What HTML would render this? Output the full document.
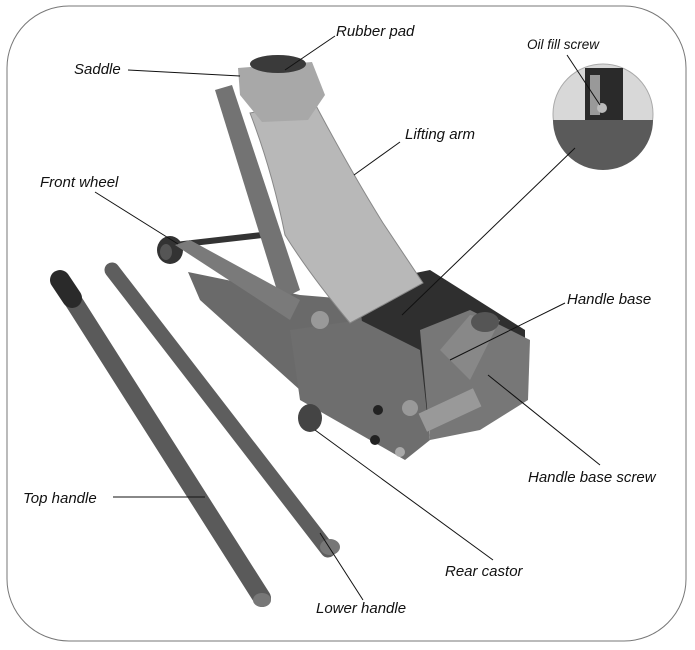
<!DOCTYPE html>
<html><head><meta charset="utf-8"><style>
html,body{margin:0;padding:0;background:#fff;}
svg{display:block;}
text{font-family:"Liberation Sans",sans-serif;font-style:italic;font-size:15px;fill:#111;}
</style></head><body>
<svg width="695" height="650" viewBox="0 0 695 650" xmlns="http://www.w3.org/2000/svg">
<rect x="7" y="6" width="679" height="635" rx="62" ry="62" fill="#fff" stroke="#777" stroke-width="1"/>

<!-- handles -->
<g stroke-linecap="round">
<line x1="60" y1="280" x2="262" y2="598" stroke="#5a5a5a" stroke-width="18"/>
<line x1="60" y1="280" x2="72" y2="298" stroke="#2a2a2a" stroke-width="20"/>
<line x1="112" y1="270" x2="328" y2="550" stroke="#5e5e5e" stroke-width="15"/>
</g>
<ellipse cx="262" cy="600" rx="9" ry="7" fill="#777"/>
<ellipse cx="330" cy="547" rx="10" ry="8" fill="#777"/>

<!-- front wheel and axle -->
<line x1="175" y1="245" x2="262" y2="235" stroke="#333" stroke-width="6"/>
<ellipse cx="170" cy="250" rx="13" ry="14" fill="#333"/>
<ellipse cx="166" cy="252" rx="6" ry="8" fill="#555"/>

<!-- front arm / frame -->
<polygon points="188,272 300,295 360,300 390,350 300,390 200,300" fill="#6a6a6a"/>
<polygon points="215,90 232,85 300,290 280,300" fill="#737373"/>
<polygon points="175,245 190,240 300,300 290,320" fill="#7a7a7a"/>
<!-- cylinder housing -->
<polygon points="357,285 430,270 525,330 525,395 440,430 370,380" fill="#2f2f2f"/>
<!-- side plate -->
<polygon points="290,330 360,320 420,350 430,440 405,460 300,400" fill="#6e6e6e"/>
<polygon points="420,330 470,310 530,340 528,400 480,430 430,440" fill="#777"/>
<!-- handle base -->
<polygon points="440,350 470,315 500,320 470,380" fill="#888"/>
<ellipse cx="485" cy="322" rx="14" ry="10" fill="#555"/>
<!-- spring -->
<rect x="420" y="400" width="60" height="20" fill="#999" transform="rotate(-25 450 410)"/>
<!-- bolts -->
<circle cx="320" cy="320" r="9" fill="#999"/>
<circle cx="410" cy="408" r="8" fill="#999"/>
<circle cx="378" cy="410" r="5" fill="#222"/>
<circle cx="375" cy="440" r="5" fill="#222"/>
<circle cx="400" cy="452" r="5" fill="#aaa"/>
<!-- rear castor -->
<ellipse cx="310" cy="418" rx="12" ry="14" fill="#444"/>

<!-- lifting arm panel -->
<path d="M250,113 L313,100 Q350,170 383,223 L423,283 L350,323 Q310,275 285,235 Q272,170 250,113 Z" fill="#b8b8b8" stroke="#888"/>
<!-- saddle -->
<polygon points="238,68 312,62 325,95 308,120 262,122 240,95" fill="#a8a8a8"/>
<ellipse cx="278" cy="64" rx="28" ry="9" fill="#3a3a3a"/>

<!-- inset -->
<circle cx="603" cy="114" r="50" fill="#d8d8d8" stroke="#aaa"/>
<path d="M553,120 L653,120 A50,50 0 0 1 553,120 Z" fill="#5a5a5a"/>
<rect x="585" y="68" width="38" height="52" fill="#2a2a2a"/>
<rect x="590" y="75" width="10" height="40" fill="#999"/>
<circle cx="602" cy="108" r="5" fill="#bbb"/>

<!-- leader lines -->
<g stroke="#111" stroke-width="1">
<line x1="335" y1="36" x2="285" y2="70"/>
<line x1="128" y1="70" x2="240" y2="76"/>
<line x1="567" y1="55" x2="600" y2="105"/>
<line x1="400" y1="142" x2="354" y2="175"/>
<line x1="95" y1="192" x2="178" y2="244"/>
<line x1="575" y1="148" x2="402" y2="315"/>
<line x1="565" y1="303" x2="450" y2="360"/>
<line x1="600" y1="465" x2="488" y2="375"/>
<line x1="113" y1="497" x2="205" y2="497"/>
<line x1="493" y1="560" x2="315" y2="430"/>
<line x1="363" y1="600" x2="320" y2="533"/>
</g>

<text x="336" y="36">Rubber pad</text>
<text x="74" y="74">Saddle</text>
<text x="527" y="49" style="font-size:13.5px">Oil fill screw</text>
<text x="405" y="139">Lifting arm</text>
<text x="40" y="187">Front wheel</text>
<text x="567" y="304">Handle base</text>
<text x="528" y="482">Handle base screw</text>
<text x="23" y="503">Top handle</text>
<text x="445" y="576">Rear castor</text>
<text x="316" y="613">Lower handle</text>
</svg>
</body></html>
